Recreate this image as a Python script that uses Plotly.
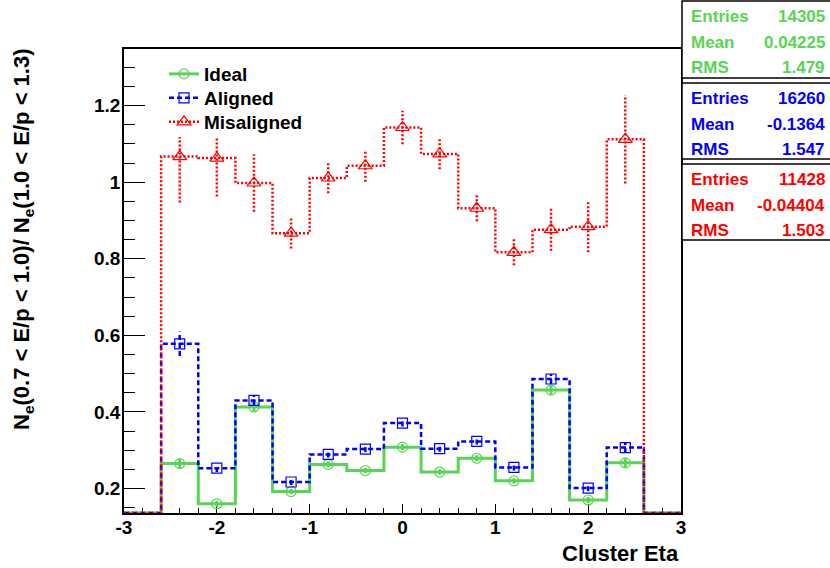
import numpy as np
import plotly.graph_objects as go

# ---------------- data ----------------
eta_centers = [-2.4, -2.0, -1.6, -1.2, -0.8, -0.4, 0.0, 0.4, 0.8, 1.2, 1.6, 2.0, 2.4]
bin_width = 0.4
hist_lo, hist_hi = -3.0, 3.0

ideal = [0.265, 0.160, 0.413, 0.192, 0.263, 0.247, 0.308, 0.243, 0.279, 0.220, 0.457, 0.170, 0.267]
ideal_err = [0.012, 0.008, 0.012, 0.007, 0.008, 0.007, 0.008, 0.007, 0.008, 0.007, 0.012, 0.008, 0.012]

aligned = [0.578, 0.253, 0.430, 0.217, 0.289, 0.303, 0.371, 0.304, 0.323, 0.255, 0.486, 0.201, 0.307]
aligned_err = [0.032, 0.010, 0.012, 0.008, 0.008, 0.008, 0.009, 0.008, 0.008, 0.008, 0.013, 0.008, 0.014]

misaligned = [1.067, 1.063, 0.998, 0.867, 1.011, 1.043, 1.143, 1.074, 0.932, 0.817, 0.876, 0.884, 1.112]
misaligned_err = [0.120, 0.100, 0.075, 0.040, 0.040, 0.042, 0.044, 0.040, 0.034, 0.034, 0.055, 0.067, 0.115]

series_names = ["Ideal", "Aligned", "Misaligned"]
stats_entries = ["14305", "16260", "11428"]
stats_mean = ["0.04225", "-0.1364", "-0.04404"]
stats_rms = ["1.479", "1.547", "1.503"]

x_tick_vals = [-3, -2, -1, 0, 1, 2, 3]
x_tick_text = ["-3", "-2", "-1", "0", "1", "2", "3"]
y_tick_vals = [0.2, 0.4, 0.6, 0.8, 1.0, 1.2]
y_tick_text = ["0.2", "0.4", "0.6", "0.8", "1", "1.2"]
y_range = [0.136, 1.348]

x_title = "Cluster Eta"
y_title = "N<sub>e</sub>(0.7 &lt; E/p &lt; 1.0)/ N<sub>e</sub>(1.0 &lt; E/p &lt; 1.3)"

# ---------------- style ----------------
GREEN = "rgb(89,212,84)"
BLUE = "rgb(0,0,255)"
RED = "rgb(255,0,0)"
FONT = "Liberation Sans, Arial, sans-serif"

W, H = 830, 568
L, R, T, B = 124, 681, 49, 513


def px2x(px):
    return (px - L) / (R - L)


def py2y(py):
    return (B - py) / (B - T)


styles = [
    dict(color=GREEN, dash="solid", width=3, symbol="circle-open", msize=10),
    dict(color=BLUE, dash="5px,3px", width=2.5, symbol="square-open", msize=10),
    dict(color=RED, dash="2px,2px", width=2.5, symbol="triangle-up-open", msize=12),
]

# full histogram arrays including empty bins between hist_lo/hist_hi
edges = np.round(np.arange(hist_lo, hist_hi + 1e-9, bin_width), 4)
full_centers = np.round((edges[:-1] + edges[1:]) / 2, 4)


def full_values(vals):
    out = np.zeros(len(full_centers))
    for c, v in zip(eta_centers, vals):
        idx = int(np.argmin(np.abs(full_centers - c)))
        out[idx] = v
    # empty bins are drawn on the bottom of the frame (as ROOT does)
    return np.maximum(out, y_range[0])


fig = go.Figure()

all_vals = [ideal, aligned, misaligned]
all_errs = [ideal_err, aligned_err, misaligned_err]

for name, vals, errs, st in zip(series_names, all_vals, all_errs, styles):
    fv = full_values(vals)
    xs = list(edges)
    ys = list(fv) + [fv[-1]]
    fig.add_trace(go.Scatter(
        x=xs, y=ys, mode="lines", line_shape="hv",
        line=dict(color=st["color"], dash=st["dash"], width=st["width"]),
        showlegend=False, hoverinfo="skip"))
    ex, ey = [], []
    for c, v, e in zip(eta_centers, vals, errs):
        ex += [c, c, None]
        ey += [v - e, v + e, None]
    fig.add_trace(go.Scatter(
        x=ex, y=ey, mode="lines",
        line=dict(color=st["color"], dash=st["dash"], width=st["width"]),
        showlegend=False, hoverinfo="skip"))
    fig.add_trace(go.Scatter(
        x=eta_centers, y=vals, mode="markers",
        marker=dict(symbol=st["symbol"], size=st["msize"], color=st["color"],
                    line=dict(width=1.2, color=st["color"])),
        showlegend=False))

# legend entries, one legend per row for exact placement
legend_ids = ["legend", "legend2", "legend3"]
legend_rows = [74, 98, 122]
for name, st, lid in zip(series_names, styles, legend_ids):
    fig.add_trace(go.Scatter(
        x=[None], y=[None], mode="lines+markers", name=name, legend=lid,
        line=dict(color=st["color"], dash=st["dash"], width=st["width"]),
        marker=dict(symbol=st["symbol"], size=st["msize"], color=st["color"],
                    line=dict(width=1.2, color=st["color"]))))

shapes = []
# legend white box (occludes what lies beneath, like ROOT's TLegend)
shapes.append(dict(type="rect", xref="paper", yref="paper",
                   x0=px2x(150), x1=px2x(330), y0=py2y(137), y1=py2y(56),
                   fillcolor="white", line=dict(width=0), layer="above"))

# stat boxes
box_y = [(1, 78), (83, 159), (164, 240)]
row_off = [15, 41.5, 66.5]
colors = [GREEN, BLUE, RED]
annotations = []
for (y0, y1), col, ent, mean, rms in zip(box_y, colors, stats_entries, stats_mean, stats_rms):
    shapes.append(dict(type="rect", xref="paper", yref="paper",
                       x0=px2x(682), x1=px2x(832), y0=py2y(y1), y1=py2y(y0),
                       fillcolor="white", line=dict(color="black", width=1.5), layer="above"))
    for lab, val, off in zip(["Entries", "Mean", "RMS"], [ent, mean, rms], row_off):
        yy = py2y(y0 + off)
        annotations.append(dict(xref="paper", yref="paper", x=px2x(689), y=yy,
                                xanchor="left", yanchor="middle", text=lab, showarrow=False,
                                font=dict(family=FONT, size=17, color=col, weight="bold")))
        annotations.append(dict(xref="paper", yref="paper", x=px2x(827), y=yy,
                                xanchor="right", yanchor="middle", text=val, showarrow=False,
                                font=dict(family=FONT, size=17, color=col, weight="bold")))

# axis titles
annotations.append(dict(xref="paper", yref="paper", x=1.0, y=py2y(553),
                        xanchor="right", yanchor="middle", text=x_title, showarrow=False,
                        font=dict(family=FONT, size=22, color="black", weight="bold")))
annotations.append(dict(xref="paper", yref="paper", x=px2x(23), y=py2y(46),
                        xanchor="center", yanchor="top", text=y_title, showarrow=False,
                        textangle=-90,
                        font=dict(family=FONT, size=22, color="black", weight="bold")))

legend_common = dict(xanchor="left", yanchor="middle", bgcolor="rgba(0,0,0,0)", borderwidth=0,
                     font=dict(family=FONT, size=19, color="black", weight="bold"))
legends = {}
for lid, row in zip(legend_ids, legend_rows):
    legends[lid] = dict(x=px2x(164), y=py2y(row), **legend_common)

fig.update_layout(
    width=W, height=H,
    margin=dict(l=L, r=W - R, t=T, b=H - B, pad=0),
    paper_bgcolor="white", plot_bgcolor="white",
    showlegend=True,
    shapes=shapes, annotations=annotations,
    font=dict(family=FONT, color="black"),
    **legends,
)

fig.update_xaxes(
    range=[hist_lo, hist_hi], tickmode="array", tickvals=x_tick_vals, ticktext=x_tick_text,
    ticks="inside", ticklen=9, tickwidth=1, tickcolor="black",
    minor=dict(dtick=0.2, tick0=0, ticks="inside", ticklen=5, tickwidth=1, tickcolor="black"),
    showgrid=False, zeroline=False, showline=True, mirror=True, linecolor="black", linewidth=1.5,
    tickfont=dict(family=FONT, size=19, color="black", weight="bold"),
    ticklabelstandoff=-4, layer="below traces")
fig.update_yaxes(
    range=y_range, tickmode="array", tickvals=y_tick_vals, ticktext=y_tick_text,
    ticks="inside", ticklen=21, tickwidth=1, tickcolor="black",
    minor=dict(dtick=0.05, tick0=0, ticks="inside", ticklen=11, tickwidth=1, tickcolor="black"),
    showgrid=False, zeroline=False, showline=True, mirror=True, linecolor="black", linewidth=1.5,
    tickfont=dict(family=FONT, size=19, color="black", weight="bold"),
    ticklabelstandoff=-2, layer="below traces")

fig.write_html("out.html", config={"displayModeBar": False},
               post_script="document.body.style.margin='0px';document.body.style.overflow='hidden';")
